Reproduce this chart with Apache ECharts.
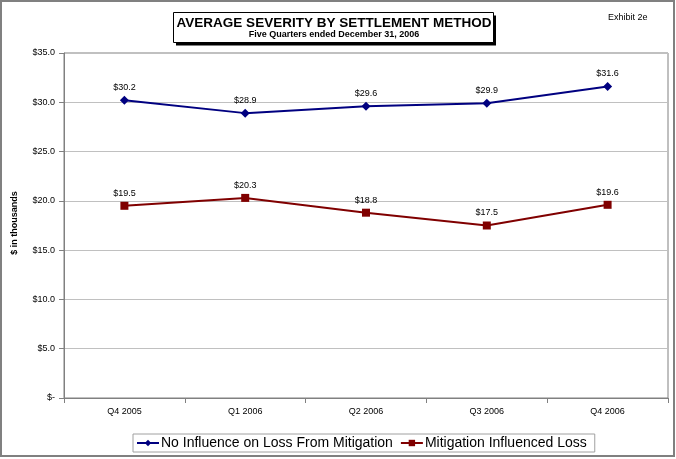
<!DOCTYPE html>
<html><head><meta charset="utf-8">
<script src="https://cdn.jsdelivr.net/npm/echarts@6/dist/echarts.min.js"></script>
<style>html,body{margin:0;padding:0;background:#fff}#c{width:676px;height:459px}</style>
</head><body><div id="c"></div>
<script>
const categories = ['Q4 2005','Q1 2006','Q2 2006','Q3 2006','Q4 2006'];
const noInfluence = [30.2, 28.9, 29.6, 29.9, 31.6];
const mitigation = [19.5, 20.3, 18.8, 17.5, 19.6];
const seriesNames = ['No Influence on Loss From Mitigation','Mitigation Influenced Loss'];
const titleText = 'AVERAGE SEVERITY BY SETTLEMENT METHOD';
const subtitleText = 'Five Quarters ended December 31, 2006';

const chart = echarts.init(document.getElementById('c'));
const F = 'Liberation Sans, Arial, sans-serif';
const lbl = {show:true, position:'top', distance:4, fontFamily:F, fontSize:9, color:'#000', formatter: p => '$' + p.value.toFixed(1)};
chart.setOption({
  animation:false,
  backgroundColor:'#fff',
  textStyle:{fontFamily:F},
  graphic:[
    {type:'rect', shape:{x:1,y:1,width:673,height:455}, style:{fill:'none', stroke:'#808080', lineWidth:2}},
    {type:'rect', shape:{x:176,y:15.5,width:320,height:30}, style:{fill:'#000'}},
    {type:'rect', shape:{x:173.5,y:12.5,width:320,height:30}, style:{fill:'#fff', stroke:'#000', lineWidth:1}},
    {type:'text', x:334, y:16, style:{text:titleText, font:'bold 13.5px '+F, fill:'#000', textAlign:'center'}},
    {type:'text', x:334, y:30, style:{text:subtitleText, font:'bold 9px '+F, fill:'#000', textAlign:'center'}},
    {type:'text', x:608, y:13, style:{text:'Exhibit 2e', font:'9px '+F, fill:'#000'}},
    {type:'text', x:15, y:223, rotation:Math.PI/2, style:{text:'$ in thousands', font:'bold 9px '+F, fill:'#000', textAlign:'center', textVerticalAlign:'middle'}}
  ],
  grid:{left:64, right:8, top:53, bottom:61, show:true, borderColor:'#808080', borderWidth:1},
  legend:{
    data:seriesNames, bottom:7, left:133, itemWidth:22, itemHeight:8, itemGap:7,
    borderColor:'#a0a0a0', borderWidth:1, padding:[2,8,2,3],
    textStyle:{fontFamily:F, fontSize:14, color:'#000', padding:[0,0,0,-3]}
  },
  xAxis:{
    type:'category', data:categories, boundaryGap:true,
    axisLine:{lineStyle:{color:'#808080', width:1}},
    axisTick:{show:true, length:5, lineStyle:{color:'#808080'}},
    axisLabel:{fontFamily:F, fontSize:9, color:'#000', margin:9}
  },
  yAxis:{
    type:'value', min:0, max:35, interval:5,
    axisLine:{show:true, lineStyle:{color:'#808080', width:1}},
    axisTick:{show:true, length:5, lineStyle:{color:'#808080'}},
    splitLine:{lineStyle:{color:'#c0c0c0', width:1}},
    axisLabel:{fontFamily:F, fontSize:9, color:'#000', margin:9, formatter: v => v === 0 ? '$-' : '$' + v.toFixed(1)}
  },
  series:[
    {name:seriesNames[0], type:'line', data:noInfluence, color:'#000080', symbol:'diamond', symbolSize:9,
     lineStyle:{width:2, color:'#000080'}, itemStyle:{color:'#000080'}, label:lbl},
    {name:seriesNames[1], type:'line', data:mitigation, color:'#800000', symbol:'rect', symbolSize:8,
     lineStyle:{width:2, color:'#800000'}, itemStyle:{color:'#800000'}, label:lbl}
  ]
});
</script></body></html>
